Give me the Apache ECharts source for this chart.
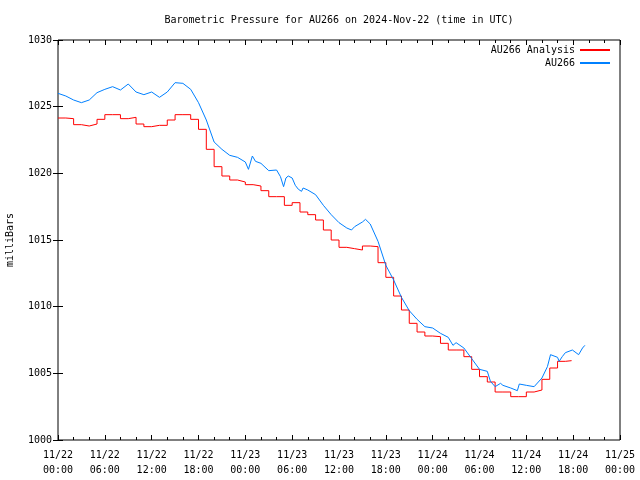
<!DOCTYPE html>
<html>
<head>
<meta charset="utf-8">
<script src="https://cdn.jsdelivr.net/npm/echarts@6/dist/echarts.min.js"></script>
<style>
html,body{margin:0;padding:0;background:#fff;}
#chart{width:640px;height:480px;}
</style>
</head>
<body>
<div id="chart"></div>
<script>
// Hours since 2024-11-22 00:00 UTC
var xTickLabels = ['11/22\n00:00','11/22\n06:00','11/22\n12:00','11/22\n18:00',
  '11/23\n00:00','11/23\n06:00','11/23\n12:00','11/23\n18:00',
  '11/24\n00:00','11/24\n06:00','11/24\n12:00','11/24\n18:00','11/25\n00:00'];

var blueHours = [0,1,2,3,4,5,6,7,8,9,10,11,12,13,14,15,16,17,18,19,20,21,22,23,24,
  24.4,24.9,25.3,26,27,28,28.5,28.9,29.2,29.5,30,30.4,30.8,31.2,31.4,32,33,34,35,36,37,
  37.6,38,39,39.4,40,41,42,43,44,45,46,47,48,49,50,50.6,51,52,53,54,55,55.4,56,56.7,57,
  58,58.85,59.1,60,61,62,62.7,63.1,63.3,64,64.2,64.6,65,65.9,66.7,67.2,67.5];
var blueValues = [1026.0,1025.8,1025.5,1025.3,1025.5,1026.05,1026.3,1026.5,1026.25,1026.7,
  1026.1,1025.9,1026.1,1025.7,1026.1,1026.8,1026.75,1026.3,1025.3,1024.0,1022.35,1021.8,
  1021.35,1021.2,1020.85,
  1020.3,1021.3,1020.9,1020.75,1020.2,1020.25,1019.75,1019.0,1019.65,1019.8,1019.65,1019.1,
  1018.8,1018.65,1018.9,1018.75,1018.4,1017.6,1016.9,1016.3,1015.9,
  1015.75,1016.0,1016.35,1016.55,1016.2,1014.9,1013.1,1012.0,1010.7,1009.7,1009.05,1008.5,
  1008.4,1008.0,1007.7,1007.1,1007.3,1006.9,1006.1,1005.3,1005.15,1004.4,1004.0,1004.25,1004.1,
  1003.9,1003.7,1004.2,1004.1,1004.0,1004.65,1005.5,1006.4,1006.5,1006.2,1005.9,1006.25,
  1006.55,1006.75,1006.4,1006.9,1007.1];

var redHours = [0,1,2,3,4,5,6,7,8,9,10,11,12,13,14,15,16,17,18,19,20,21,22,23,24,25,26,27,
  28,29,30,31,32,33,34,35,36,37,38,39,40,41,42,43,44,45,46,47,48,49,50,51,52,53,54,55,56,
  57,58,59,60,61,62,63,64,65,65.8];
var redValues = [1024.15,1024.1,1023.65,1023.55,1023.7,1024.05,1024.4,1024.4,1024.1,1024.2,
  1023.7,1023.5,1023.6,1023.6,1024.0,1024.4,1024.4,1024.05,1023.3,1021.8,1020.5,1019.8,
  1019.5,1019.35,1019.15,1019.05,1018.7,1018.25,1018.25,1017.6,1017.8,1017.1,1016.9,1016.5,
  1015.75,1015.0,1014.45,1014.35,1014.25,1014.55,1014.5,1013.3,1012.2,1010.8,1009.75,
  1008.75,1008.1,1007.8,1007.75,1007.25,1006.75,1006.75,1006.25,1005.3,1004.75,1004.35,
  1003.6,1003.6,1003.25,1003.25,1003.6,1003.75,1004.55,1005.4,1005.9,1005.95,1005.95];

function pairs(xs, ys){ return xs.map(function(x,i){ return [x, ys[i]]; }); }

var FONT = 'DejaVu Sans Mono';
var chart = echarts.init(document.getElementById('chart'), null, {renderer:'canvas'});

var tickX = {show:true, inside:true, length:5, lineStyle:{color:'#000', width:1}};
var minorX = {show:true, splitNumber:3, length:3, lineStyle:{color:'#000', width:1}};
var legendText = {fontFamily:FONT, fontSize:10, color:'#000'};

chart.setOption({
  animation:false,
  backgroundColor:'#fff',
  title:{
    text:'Barometric Pressure for AU266 on 2024-Nov-22 (time in UTC)',
    left:334, top:10, textAlign:'center',
    textStyle:{fontFamily:FONT, fontSize:10, fontWeight:'normal', color:'#000'}
  },
  legend:[
    {data:['AU266 Analysis'], right:24, top:40, align:'right', itemWidth:30, itemHeight:10,
     itemGap:0, itemStyle:{opacity:0}, textStyle:legendText},
    {data:['AU266'], right:24, top:53, align:'right', itemWidth:30, itemHeight:10,
     itemGap:0, itemStyle:{opacity:0}, textStyle:legendText}
  ],
  grid:{left:58, right:20, top:40, bottom:40, show:true, borderColor:'#000', borderWidth:1,
        backgroundColor:'transparent', containLabel:false, outerBoundsMode:'none'},
  xAxis:[
    {type:'value', min:0, max:72, interval:6, position:'bottom',
     axisLine:{show:false}, splitLine:{show:false},
     axisTick:tickX, minorTick:minorX,
     axisLabel:{fontFamily:FONT, fontSize:10, color:'#000', margin:8, lineHeight:15,
       formatter:function(v){ return xTickLabels[Math.round(v/6)]; }}},
    {type:'value', min:0, max:72, interval:6, position:'top',
     axisLine:{show:false}, splitLine:{show:false},
     axisTick:tickX, minorTick:minorX, axisLabel:{show:false}}
  ],
  yAxis:[
    {type:'value', min:1000, max:1030, interval:5, position:'left',
     name:'milliBars', nameLocation:'middle', nameGap:43, nameRotate:90,
     nameTextStyle:{fontFamily:FONT, fontSize:10, color:'#000'},
     axisLine:{show:false}, splitLine:{show:false},
     axisTick:{show:true, inside:true, length:5, lineStyle:{color:'#000'}},
     axisLabel:{fontFamily:FONT, fontSize:10, color:'#000', margin:6,
       formatter:function(v){ return String(v); }}},
    {type:'value', min:1000, max:1030, interval:5, position:'right',
     axisLine:{show:false}, splitLine:{show:false},
     axisTick:{show:true, inside:true, length:5, lineStyle:{color:'#000'}},
     axisLabel:{show:false}}
  ],
  series:[
    {name:'AU266 Analysis', type:'line', step:'end', symbol:'none',
     xAxisIndex:0, yAxisIndex:0,
     lineStyle:{color:'#ff0000', width:1}, itemStyle:{color:'#ff0000'},
     data:pairs(redHours, redValues)},
    {name:'AU266', type:'line', symbol:'none',
     xAxisIndex:0, yAxisIndex:0,
     lineStyle:{color:'#0080ff', width:1}, itemStyle:{color:'#0080ff'},
     data:pairs(blueHours, blueValues)}
  ]
});
</script>
</body>
</html>
